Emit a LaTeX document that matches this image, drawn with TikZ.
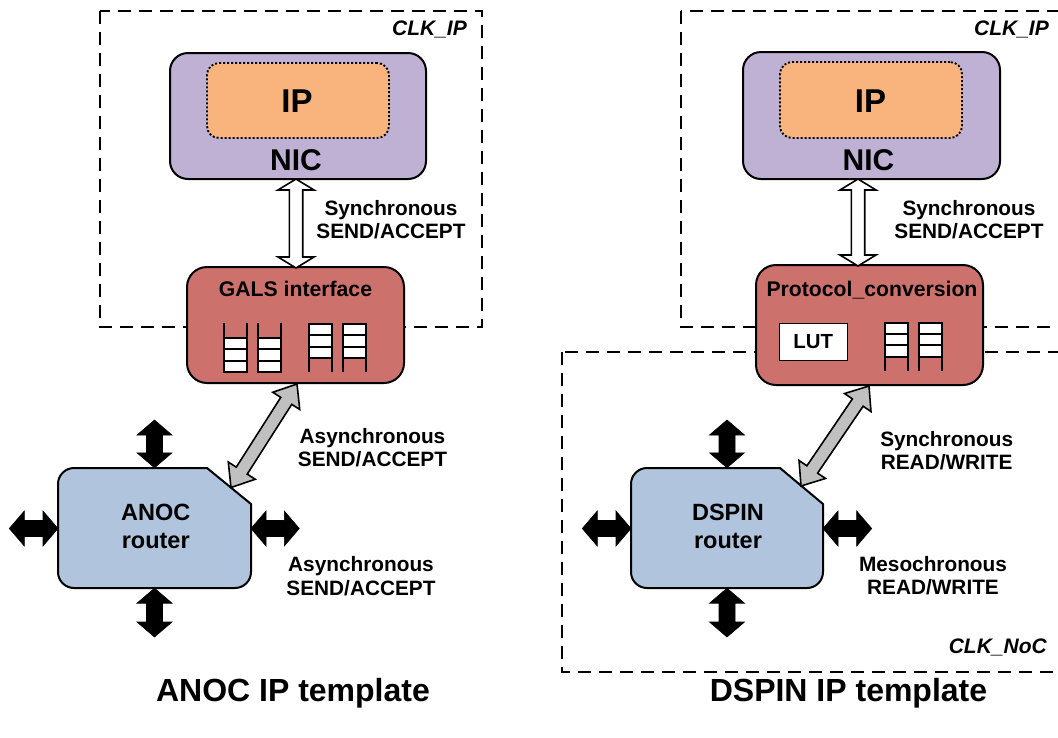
\documentclass[tikz,border=0pt]{standalone}
\usepackage{fontspec}
\setmainfont{Liberation Sans}
\usetikzlibrary{calc}
\definecolor{nicpurple}{RGB}{191,177,211}
\definecolor{iporange}{RGB}{248,180,124}
\definecolor{convred}{RGB}{205,113,108}
\definecolor{routerblue}{RGB}{176,196,222}
\definecolor{arrowgray}{RGB}{192,192,192}
\newcommand\twoline[2]{\begin{tabular}[t]{@{}c@{}}#1\\#2\end{tabular}}
% double arrow polygon: #1 style, #2 A, #3 B, #4 half shaft, #5 half head, #6 head length
\newcommand\dblarrow[6]{%
  \coordinate (da1) at ($(#2)!#6!(#3)$);
  \coordinate (db1) at ($(#3)!#6!(#2)$);
  \path[#1] (#2) -- ($(da1)!#5!90:(#3)$) -- ($(da1)!#4!90:(#3)$)
    -- ($(db1)!#4!-90:(#2)$) -- ($(db1)!#5!-90:(#2)$) -- (#3)
    -- ($(db1)!#5!90:(#2)$) -- ($(db1)!#4!90:(#2)$)
    -- ($(da1)!#4!-90:(#3)$) -- ($(da1)!#5!-90:(#3)$) -- cycle;}
% fifo: #1 x left, #2 rail top, #3 rail bottom, #4 cells top, #5 width
\newcommand\fifo[5]{%
  \foreach \k in {0,1,2}{\draw[fifocell] (#1,{#4+\k*11.3}) rectangle ({#1+#5},{#4+(\k+1)*11.3});}
  \draw[fiforail] (#1,#2) -- (#1,#3) ({#1+#5},#2) -- ({#1+#5},#3);}
\begin{document}
\begin{tikzpicture}[x=1pt,y=-1pt,
  clkbox/.style={draw, line width=1.8pt, dash pattern=on 13pt off 8pt},
  clklbl/.style={font=\fontsize{21}{24}\selectfont\bfseries\itshape, inner sep=0, anchor=base east},
  nicbox/.style={draw, line width=2pt, fill=nicpurple, rounded corners=18pt, inner sep=0},
  ipbox/.style={draw, line width=1.9pt, dash pattern=on 2pt off 2pt, fill=iporange, rounded corners=12pt, inner sep=0},
  convbox/.style={draw, line width=2pt, fill=convred, rounded corners=20pt, inner sep=0},
  routershape/.style={draw, line width=2pt, fill=routerblue},
  lutbox/.style={draw, line width=1.5pt, fill=white, inner sep=0, font=\fontsize{20.4}{24}\selectfont\bfseries},
  fifocell/.style={draw, line width=1.8pt, fill=white},
  fiforail/.style={line width=2pt},
  whitearrow/.style={draw, fill=white, line width=1.6pt, line join=miter},
  grayarrow/.style={draw, fill=arrowgray, line width=1.6pt, line join=miter},
  blackarrow/.style={draw, fill=black, line width=0.6pt, line join=miter},
  biglbl/.style={font=\fontsize{33}{38}\selectfont\bfseries, inner sep=0, anchor=base},
  niclbl/.style={font=\fontsize{30}{34}\selectfont\bfseries, inner sep=0, anchor=base},
  boxlbl/.style={font=\fontsize{21.2}{24}\selectfont\bfseries, inner sep=0, anchor=base},
  routerlbl/.style={font=\fontsize{23.5}{28}\selectfont\bfseries, inner sep=0, anchor=base},
  lbl/.style={font=\fontsize{20.8}{23.5}\selectfont\bfseries, inner sep=0, anchor=base},
  titlelbl/.style={font=\fontsize{32}{38}\selectfont\bfseries, inner sep=0, anchor=base},
  ghost/.style={draw=none, inner sep=0}
]
\clip (0,0) rectangle (1058,737);
\useasboundingbox (0,0) rectangle (1058,737);

% clock domains
\draw[clkbox] (100,11) rectangle (482,327);
\draw[clkbox] (681,11) rectangle (1090,327);
\draw[clkbox] (562,352) rectangle (1090,672);
\node[clklbl] (clkipL) at (467,35) {CLK\_IP};
\node[clklbl] (clkipR) at (1049,35) {CLK\_IP};
\node[clklbl] (clknoc) at (1047,653) {CLK\_NoC};

% ---------- left: ANOC ----------
\node[nicbox, minimum width=256pt, minimum height=126pt] (nicL) at (298,116) {};
\node[ipbox, minimum width=182pt, minimum height=75pt] (ipL) at (298,100.5) {};
\node[biglbl] (ipLt) at (297,112) {IP};
\node[niclbl] (nicLt) at (296,170) {NIC};

\node[convbox, minimum width=217pt, minimum height=116pt] (galsL) at (295.5,325) {};
\node[boxlbl] (galsLt) at (295.5,296) {GALS interface};
\fifo{224.3}{323}{372}{338}{22.4}
\fifo{258.3}{323}{372}{338}{22.4}
\fifo{309.3}{324}{372}{324}{23}
\fifo{343.3}{324}{372}{324}{22.7}

\node[ghost, minimum width=193pt, minimum height=120pt] (anoc) at (154.5,528) {};
\draw[routershape] (58,528) [rounded corners=16pt] -- (58,468) [sharp corners] -- (207,468)
  -- (251,504) [rounded corners=16pt] -- (251,588) -- (58,588) -- cycle;
\node[routerlbl] (anocT) at (155.7,520) {\twoline{ANOC}{router}};

\coordinate (wL1) at (296,179);
\coordinate (wL2) at (296,268);
\dblarrow{whitearrow}{wL1}{wL2}{6.7pt}{18pt}{11pt}
\coordinate (gL1) at (297,384);
\coordinate (gL2) at (231,487.5);
\dblarrow{grayarrow}{gL1}{gL2}{6.5pt}{16pt}{20pt}

\coordinate (aT) at (154.5,420);
\coordinate (aB) at (154.5,637);
\coordinate (aW) at (9.3,528.5);
\coordinate (aE) at (299.3,528.5);
\dblarrow{blackarrow}{aT}{anoc.north}{8pt}{17.5pt}{15pt}
\dblarrow{blackarrow}{anoc.south}{aB}{8pt}{17.5pt}{15pt}
\dblarrow{blackarrow}{aW}{58,528.5}{8pt}{17.5pt}{15pt}
\dblarrow{blackarrow}{251,528.5}{aE}{8pt}{17.5pt}{15pt}

\node[lbl] (lsync) at (391,215) {\twoline{Synchronous}{SEND/ACCEPT}};
\node[lbl] (lasync1) at (372.5,443.3) {\twoline{Asynchronous}{SEND/ACCEPT}};
\node[lbl] (lasync2) at (361,571.7) {\twoline{Asynchronous}{SEND/ACCEPT}};
\node[titlelbl] (ltitle) at (293,701) {ANOC IP template};

% ---------- right: DSPIN ----------
\node[nicbox, minimum width=257pt, minimum height=127pt] (nicR) at (871.5,115.5) {};
\node[ipbox, minimum width=182pt, minimum height=76pt] (ipR) at (871,100) {};
\node[biglbl] (ipRt) at (870.5,112) {IP};
\node[niclbl] (nicRt) at (868.5,170) {NIC};

\node[convbox, minimum width=227pt, minimum height=120pt] (convR) at (869.5,325) {};
\node[boxlbl] (convRt) at (872,296) {Protocol\_conversion};
\node[lutbox, minimum width=68pt, minimum height=37.4pt] (lut) at (813.3,342) {LUT};
\fifo{885}{322.7}{371}{322.7}{22.7}
\fifo{919.3}{322.7}{371}{322.7}{23}

\node[ghost, minimum width=192pt, minimum height=120pt] (dspin) at (727,528) {};
\draw[routershape] (631,528) [rounded corners=16pt] -- (631,468) [sharp corners] -- (780,468)
  -- (823,504) [rounded corners=16pt] -- (823,588) -- (631,588) -- cycle;
\node[routerlbl] (dspinT) at (728,520) {\twoline{DSPIN}{router}};

\coordinate (wR1) at (858,179);
\coordinate (wR2) at (858,266);
\dblarrow{whitearrow}{wR1}{wR2}{6.7pt}{18pt}{11pt}
\coordinate (gR1) at (869,386);
\coordinate (gR2) at (801,486);
\dblarrow{grayarrow}{gR1}{gR2}{6.5pt}{16pt}{20pt}

\coordinate (dT) at (727,420);
\coordinate (dB) at (727,637);
\coordinate (dW) at (582.3,528.5);
\coordinate (dE) at (871.7,528.5);
\dblarrow{blackarrow}{dT}{dspin.north}{8pt}{17.5pt}{15pt}
\dblarrow{blackarrow}{dspin.south}{dB}{8pt}{17.5pt}{15pt}
\dblarrow{blackarrow}{dW}{631,528.5}{8pt}{17.5pt}{15pt}
\dblarrow{blackarrow}{823,528.5}{dE}{8pt}{17.5pt}{15pt}

\node[lbl] (rsync) at (969,215) {\twoline{Synchronous}{SEND/ACCEPT}};
\node[lbl] (rsyncrw) at (946.7,446) {\twoline{Synchronous}{READ/WRITE}};
\node[lbl] (rmeso) at (933,571) {\twoline{Mesochronous}{READ/WRITE}};
\node[titlelbl] (rtitle) at (848.5,701) {DSPIN IP template};
\end{tikzpicture}
\end{document}
